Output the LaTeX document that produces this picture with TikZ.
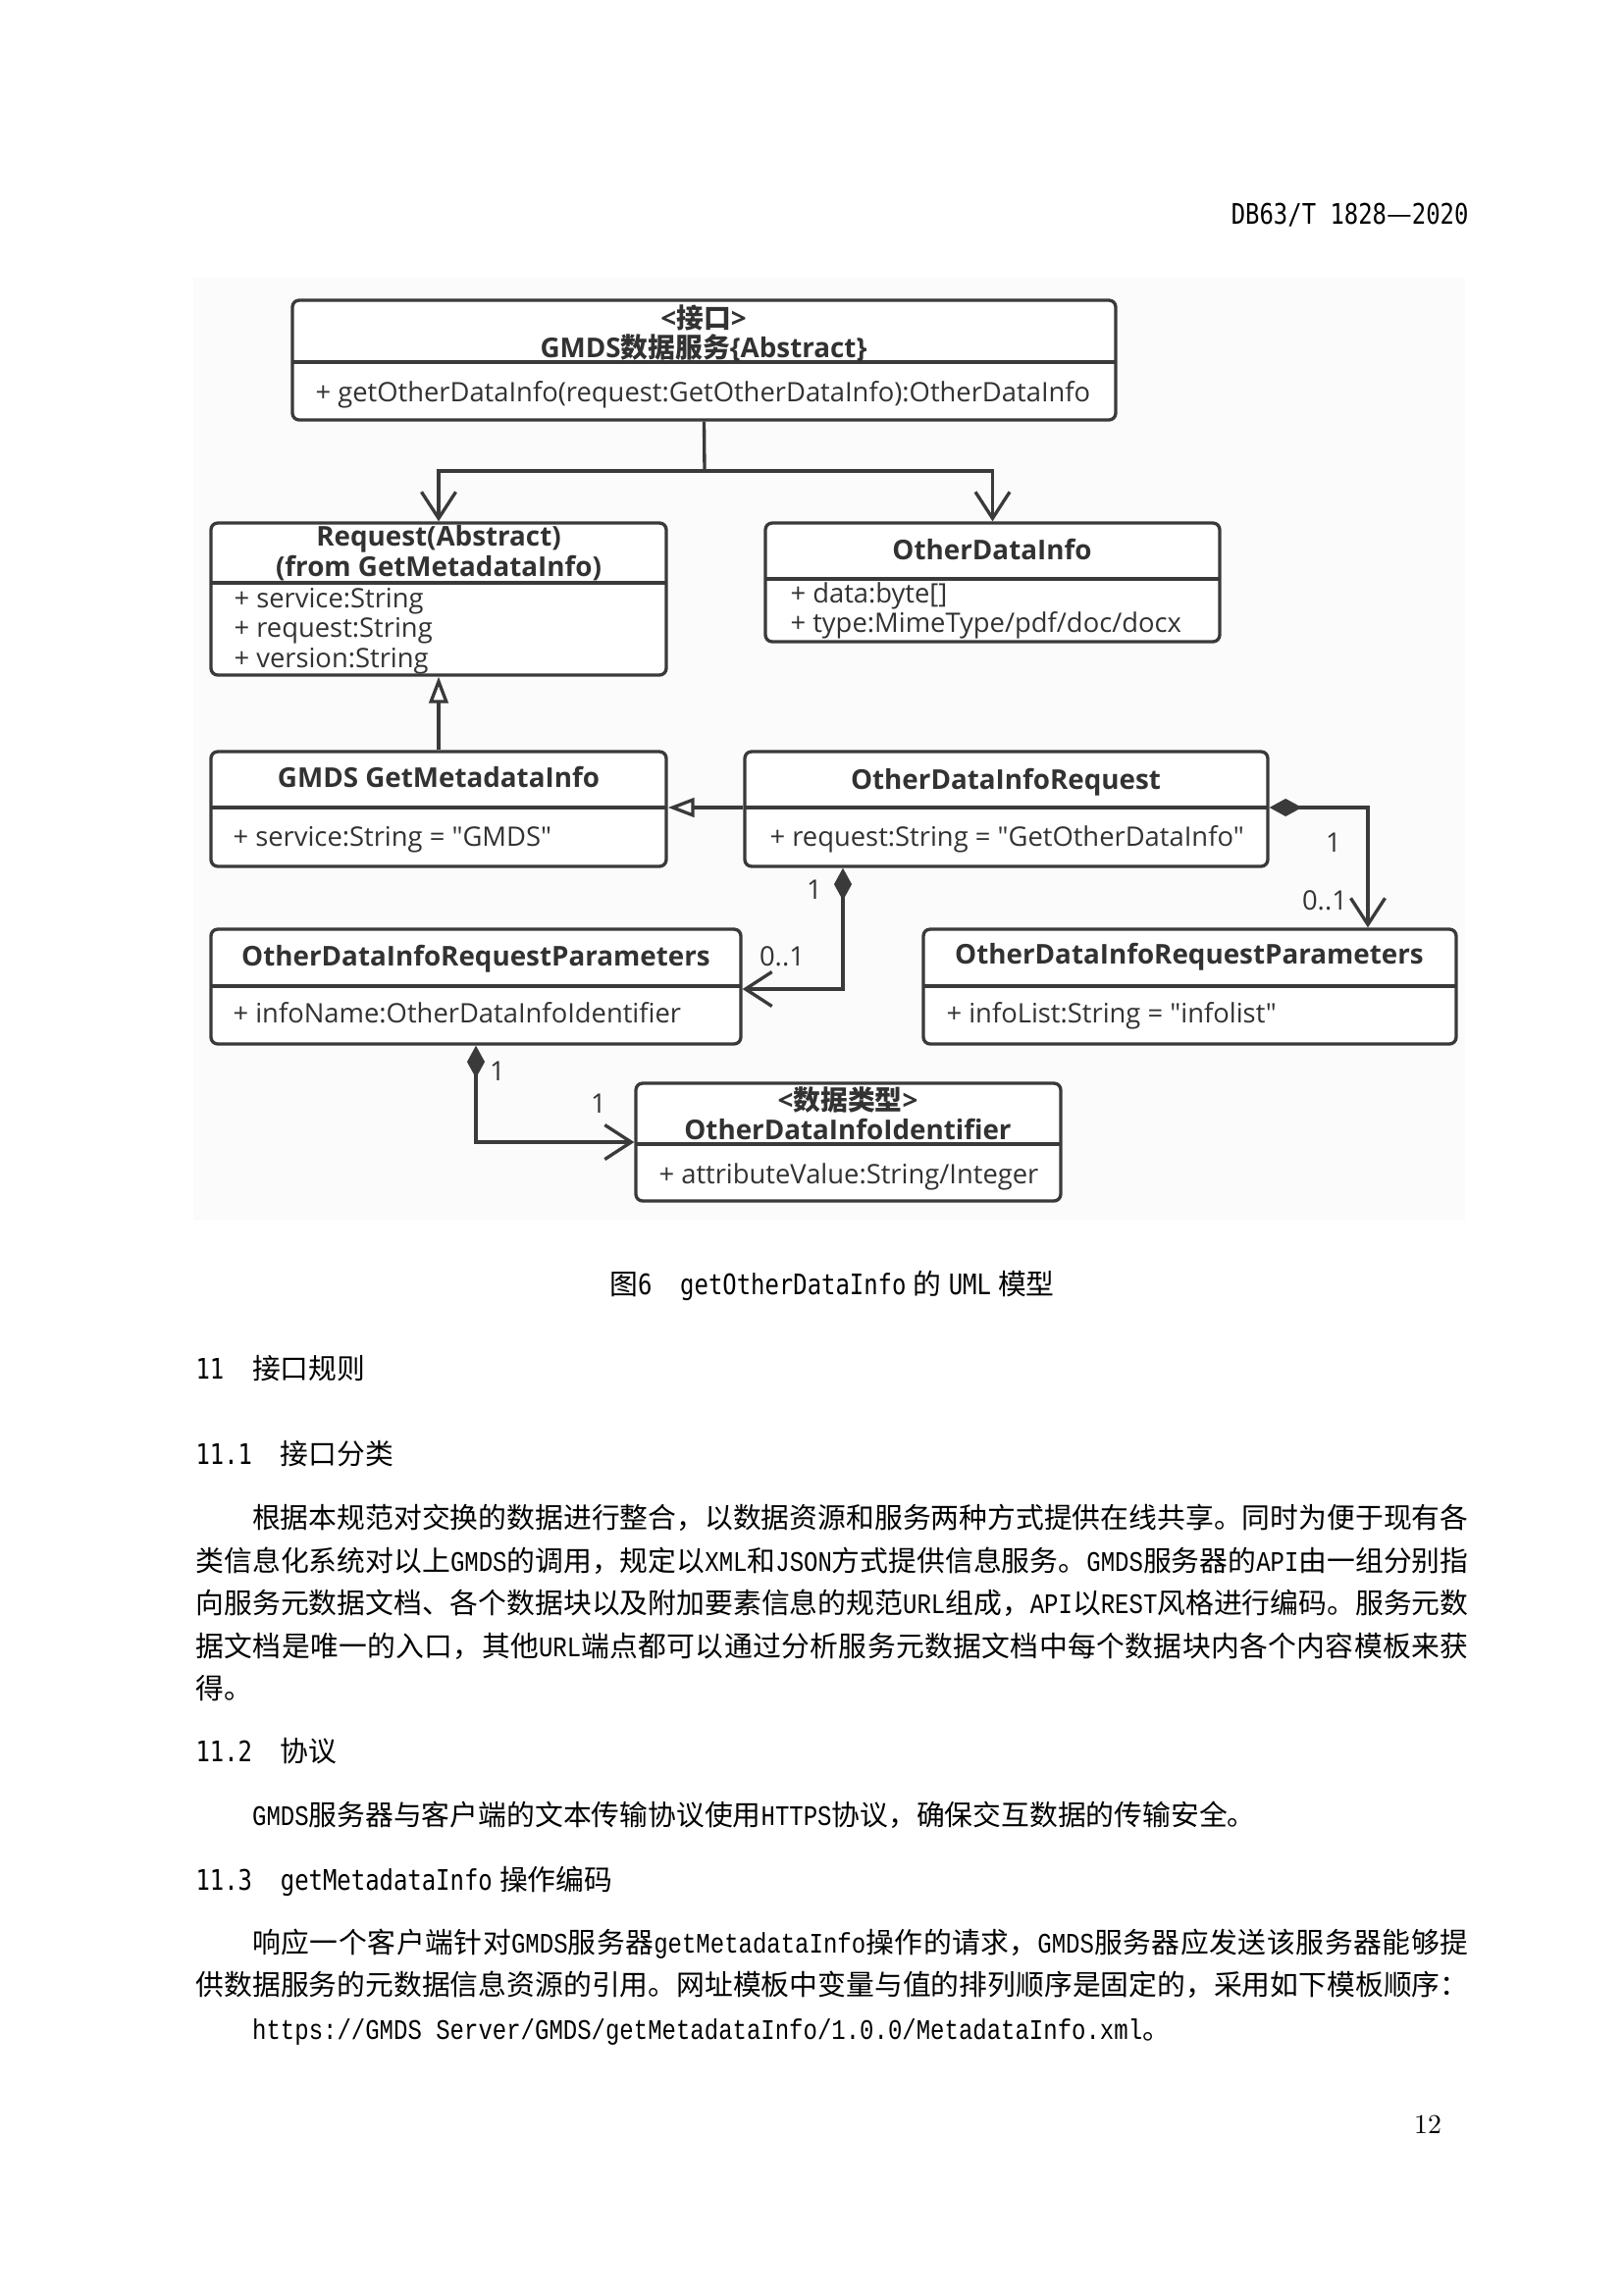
\documentclass[tikz,border=0pt]{standalone}
\usepackage{fontspec}
\usepackage{tikz}
\usetikzlibrary{arrows.meta,fit}

\newfontfamily\cjk{Noto Sans CJK SC}
\newfontfamily\uml{Open Sans}
\newfontfamily\hei[FakeStretch=0.83]{DejaVu Sans Mono}
\newfontfamily\song[FakeStretch=0.833]{Liberation Mono}
\newcommand{\sg}[1]{{\song #1}}
\newcommand{\hm}[1]{{\hei #1}}
\newcommand{\fullline}[1]{\parfillskip=0pt #1\par}

\XeTeXlinebreaklocale "zh"
\XeTeXlinebreakskip=0pt plus 2pt minus 0.3pt

\definecolor{umlline}{RGB}{58,58,58}
\definecolor{umltext}{RGB}{50,50,50}
\definecolor{umlbg}{RGB}{251,251,251}

\tikzset{
  cls/.style={draw=umlline, line width=1.2pt, rounded corners=2.5pt, fill=white, inner sep=0pt},
  divider/.style={draw=umlline, line width=1.2pt},
  ttl/.style={font=\uml\bfseries\fontsize{10}{12}\selectfont, text=umltext, inner sep=0pt, text height=7.1pt, text depth=0pt},
  att/.style={font=\uml\fontsize{9.85}{12}\selectfont, text=umltext, inner sep=0pt, text height=7pt, text depth=0pt, anchor=west},
  mult/.style={att, anchor=center},
  link/.style={draw=umlline, line width=1.2pt},
  assoc/.style={link, -{Straight Barb[length=9.7pt,width=12.6pt]}},
  gen/.style={link, -{Triangle[length=9.7pt,width=7pt,fill=white]}},
  comp/.style={link, {Diamond[length=11.9pt,width=6.5pt]}-{Straight Barb[length=9.7pt,width=12.6pt]}},
  body/.style={font=\cjk\fontsize{10.37}{12}\selectfont, inner sep=0pt, anchor=base west},
  just/.style={body, text width=466.9pt, align=justify},
}

\begin{document}
\begin{tikzpicture}[x=0.36pt, y=-0.36pt]
  \useasboundingbox (0,0) rectangle (1654,2339);
  \fill[white] (0,0) rectangle (1654,2339);

  % page head
  \node[body, anchor=base east] (head) at (1497,228) {\hm{DB63/T 1828}—\hm{2020}};

  % figure background
  \fill[umlbg] (197,283) rectangle (1493,1243);

  % class boxes
  \node[cls, fit={(298,306) (1137,428)}] (iface) {};
  \draw[divider] (298,369) -- (1137,369);
  \node[ttl] (iface-s) at (717,325) {<{\cjk 接口}>};
  \node[ttl] (iface-t) at (717,355) {GMDS{\cjk 数据服务}\{Abstract\}};
  \node[att] (iface-a) at (321,400) {+ getOtherDataInfo(request:GetOtherDataInfo):OtherDataInfo};

  \node[cls, fit={(215,533) (679,688)}] (req) {};
  \draw[divider] (215,594) -- (679,594);
  \node[ttl] (req-t1) at (447,547) {Request(Abstract)};
  \node[ttl] (req-t2) at (447,578) {(from GetMetadataInfo)};
  \node[att] (req-a1) at (238,610) {+ service:String};
  \node[att] (req-a2) at (238,640) {+ request:String};
  \node[att] (req-a3) at (238,671) {+ version:String};

  \node[cls, fit={(780,533) (1243,654)}] (info) {};
  \draw[divider] (780,590) -- (1243,590);
  \node[ttl] (info-t) at (1011,561) {OtherDataInfo};
  \node[att] (info-a1) at (805,605) {+ data:byte[]};
  \node[att] (info-a2) at (805,635) {+ type:MimeType/pdf/doc/docx};

  \node[cls, fit={(215,766) (679,883)}] (getmeta) {};
  \draw[divider] (215,823) -- (679,823);
  \node[ttl] (getmeta-t) at (447,793) {GMDS GetMetadataInfo};
  \node[att] (getmeta-a) at (237,853) {+ service:String = "GMDS"};

  \node[cls, fit={(759,766) (1292,883)}] (odireq) {};
  \draw[divider] (759,823) -- (1292,823);
  \node[ttl] (odireq-t) at (1025,795) {OtherDataInfoRequest};
  \node[att] (odireq-a) at (784,853) {+ request:String = "GetOtherDataInfo"};

  \node[cls, fit={(215,947) (755,1064)}] (lparam) {};
  \draw[divider] (215,1005) -- (755,1005);
  \node[ttl] (lparam-t) at (485,975) {OtherDataInfoRequestParameters};
  \node[att] (lparam-a) at (237,1033) {+ infoName:OtherDataInfoIdentifier};

  \node[cls, fit={(941,947) (1484,1064)}] (rparam) {};
  \draw[divider] (941,1005) -- (1484,1005);
  \node[ttl] (rparam-t) at (1212,973) {OtherDataInfoRequestParameters};
  \node[att] (rparam-a) at (964,1033) {+ infoList:String = "infolist"};

  \node[cls, fit={(648,1104) (1081,1224)}] (ident) {};
  \draw[divider] (648,1166) -- (1081,1166);
  \node[ttl] (ident-s) at (864,1122) {<{\cjk 数据类型}>};
  \node[ttl] (ident-t) at (864,1152) {OtherDataInfoIdentifier};
  \node[att] (ident-a) at (671,1197) {+ attributeValue:String/Integer};

  % connectors
  \coordinate (split) at (718,480);
  \draw[link] (iface.south) -- (split);
  \draw[assoc] (split) -| (req.north);
  \draw[assoc] (split) -| (info.north);
  \draw[gen] (getmeta.north) -- (req.south);
  \draw[gen] (odireq.west |- 0,823) -- (getmeta.east |- 0,823);
  \draw[comp] (odireq.east |- 0,823) -| (rparam.north -| 1394,0);
  \draw[comp] (odireq.south -| 859,0) |- (lparam.east |- 0,1008);
  \draw[comp] (lparam.south -| 485,0) |- (ident.west |- 0,1164);

  % multiplicities
  \node[mult] (m1) at (1359,859) {1};
  \node[mult] (m2) at (1350,918) {0..1};
  \node[mult] (m3) at (830,907) {1};
  \node[mult] (m4) at (797,975) {0..1};
  \node[mult] (m5) at (507,1092) {1};
  \node[mult] (m6) at (610,1125) {1};

  % caption
  \node[body, anchor=base] (cap) at (848,1319) {图\hm{6}\hspace{1em}\hm{getOtherDataInfo}\hspace{.25em}的\hspace{.25em}\hm{UML}\hspace{.25em}模型};

  % text below
  \node[body] (h11) at (199,1405) {\hm{11}\hspace{1em}接口规则};
  \node[body] (h111) at (199,1492) {\hm{11.1}\hspace{1em}接口分类};
  \node[just] (p1a) at (199,1557) {\fullline{\hspace*{2em}根据本规范对交换的数据进行整合，以数据资源和服务两种方式提供在线共享。同时为便于现有各}};
  \node[just] (p1b) at (199,1601) {\fullline{类信息化系统对以上\sg{GMDS}的调用，规定以\sg{XML}和\sg{JSON}方式提供信息服务。\sg{GMDS}服务器的\sg{API}由一组分别指}};
  \node[just] (p1c) at (199,1644) {\fullline{向服务元数据文档、各个数据块以及附加要素信息的规范\sg{URL}组成，\sg{API}以\sg{REST}风格进行编码。服务元数}};
  \node[just] (p1d) at (199,1688) {\fullline{据文档是唯一的入口，其他\sg{URL}端点都可以通过分析服务元数据文档中每个数据块内各个内容模板来获}};
  \node[body] (p1e) at (199,1731) {得。};
  \node[body] (h112) at (199,1795) {\hm{11.2}\hspace{1em}协议};
  \node[body] (p2) at (199,1860) {\hspace*{2em}\sg{GMDS}服务器与客户端的文本传输协议使用\sg{HTTPS}协议，确保交互数据的传输安全。};
  \node[body] (h113) at (199,1926) {\hm{11.3}\hspace{1em}\hm{getMetadataInfo}\hspace{.25em}操作编码};
  \node[just] (p3a) at (199,1990) {\fullline{\hspace*{2em}响应一个客户端针对\sg{GMDS}服务器\sg{getMetadataInfo}操作的请求，\sg{GMDS}服务器应发送该服务器能够提}};
  \node[just] (p3b) at (199,2033) {\fullline{供数据服务的元数据信息资源的引用。网址模板中变量与值的排列顺序是固定的，采用如下模板顺序：}};
  \node[body] (p3c) at (199,2078) {\hspace*{2em}\sg{https://GMDS Server/GMDS/getMetadataInfo/1.0.0/MetadataInfo.xml}。};

  % page number
  \node[font=\fontsize{10}{12}\selectfont, inner sep=0pt, anchor=base] (pagenum) at (1455,2174) {12};
\end{tikzpicture}
\end{document}
